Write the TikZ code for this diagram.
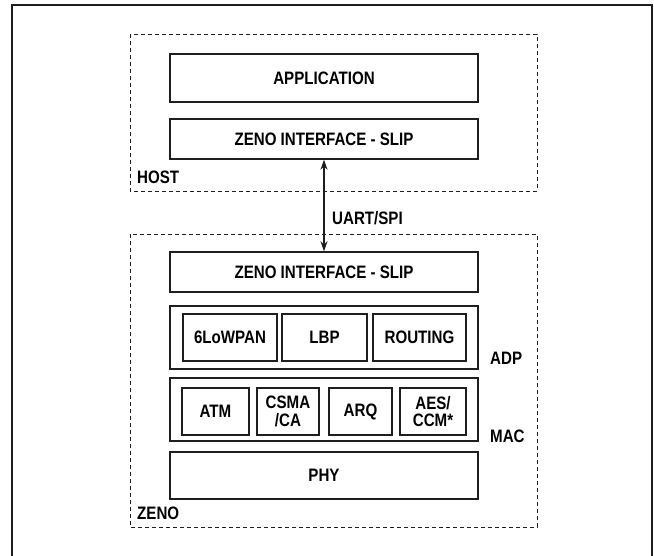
\documentclass[tikz,border=0pt]{standalone}
\usepackage{fontspec}
\setmainfont{Liberation Sans}[FakeStretch=0.84]
\usetikzlibrary{arrows.meta}
\definecolor{ln}{HTML}{1E1E1E}
\tikzset{
  box/.style={draw=ln, line width=1.4pt, rectangle, inner sep=0pt, align=center,
    font=\fontsize{18}{17.7}\selectfont\bfseries},
  grp/.style={draw=ln, line width=1pt, dash pattern=on 4pt off 3pt},
  lbl/.style={inner sep=0pt, anchor=west, font=\fontsize{18}{18}\selectfont\bfseries},
}
\begin{document}
\begin{tikzpicture}[x=1pt,y=-1pt]
\useasboundingbox (0,0) rectangle (654,555);
% outer frame (open at bottom)
\draw[ln, line width=2pt] (12,560) -- (12,5) -- (652,5) -- (652,560);
% group boxes
\draw[grp] (130,34) rectangle (537,191);
\draw[grp] (130,234) rectangle (537,527);
% host
\node[box, minimum width=308pt, minimum height=48pt] (app) at (324,78) {APPLICATION};
\node[box, minimum width=308pt, minimum height=40pt] (hzi) at (324,139) {ZENO INTERFACE - SLIP};
\node[lbl] (host) at (137,177) {HOST};
% zeno
\node[box, minimum width=308pt, minimum height=40pt] (zzi) at (324,272) {ZENO INTERFACE - SLIP};
\node[box, minimum width=308pt, minimum height=63pt] (adp) at (324,337.5) {};
\node[box, minimum width=94pt, minimum height=47pt] (lowpan) at (230,337.5) {6LoWPAN};
\node[box, minimum width=85pt, minimum height=47pt] (lbp) at (324.5,337.5) {LBP};
\node[box, minimum width=93pt, minimum height=47pt] (routing) at (419.5,337.5) {ROUTING};
\node[lbl] (adplbl) at (490,358) {ADP};
\node[box, minimum width=308pt, minimum height=63pt] (mac) at (324,409.5) {};
\node[box, minimum width=67pt, minimum height=47pt] (atm) at (215.5,411.5) {ATM};
\node[box, minimum width=62pt, minimum height=47pt] (csma) at (288,411.5) {CSMA\\/CA};
\node[box, minimum width=63pt, minimum height=47pt] (arq) at (360.5,411.5) {ARQ};
\node[box, minimum width=66pt, minimum height=47pt] (aes) at (433,411.5) {AES/\\CCM*};
\node[lbl] (maclbl) at (490,436) {MAC};
\node[box, minimum width=308pt, minimum height=47pt] (phy) at (324,475.5) {PHY};
\node[lbl] (zeno) at (137,513) {ZENO};
% link
\draw[ln, line width=1.2pt, {Stealth[length=10pt,width=7pt]}-{Stealth[length=10pt,width=7pt]}] (hzi.south) -- (zzi.north);
\node[lbl] (uart) at (332,218) {UART/SPI};
\end{tikzpicture}
\end{document}
